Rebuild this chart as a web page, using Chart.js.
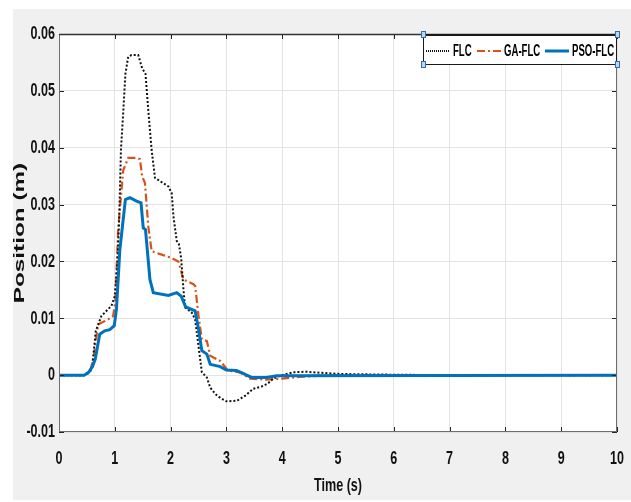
<!DOCTYPE html>
<html>
<head>
<meta charset="utf-8">
<script src="https://cdn.jsdelivr.net/npm/chart.js@4.4.1/dist/chart.umd.min.js"></script>
<style>
  html, body { margin: 0; padding: 0; background: #ffffff; }
  #wrap { width: 631px; height: 502px; }
</style>
</head>
<body>
<div id="wrap"><canvas id="chart" width="631" height="502"></canvas></div>
<script>
const seriesNames = ['FLC', 'GA-FLC', 'PSO-FLC'];

const flcTime = [0, 0.45, 0.52, 0.59, 0.66, 0.76, 0.94, 1.0, 1.05, 1.08, 1.11, 1.15, 1.19, 1.24, 1.3, 1.42, 1.49, 1.55, 1.6, 1.66, 1.72, 1.96, 2.02, 2.05, 2.11, 2.15, 2.19, 2.23, 2.26, 2.38, 2.44, 2.5, 2.56, 2.65, 2.71, 2.8, 2.89, 3.0, 3.19, 3.34, 3.48, 3.63, 3.74, 3.84, 3.99, 4.2, 4.42, 4.71, 5.07, 5.8, 6.9, 10];
const flcPos  = [0, 0, 0.0003, 0.001, 0.0078, 0.0104, 0.0122, 0.0139, 0.0204, 0.028, 0.0396, 0.046, 0.053, 0.056, 0.0563, 0.0563, 0.054, 0.053, 0.0466, 0.0396, 0.0347, 0.0332, 0.032, 0.028, 0.0236, 0.023, 0.0205, 0.0151, 0.0119, 0.011, 0.0098, 0.0051, 0.0005, -0.0004, -0.0022, -0.0033, -0.004, -0.0046, -0.0045, -0.0036, -0.0024, -0.002, -0.0015, -0.0006, 0, 0.0005, 0.0006, 0.0004, 0.0002, 0.0001, 0, 0];

const gaTime = [0, 0.45, 0.55, 0.62, 0.7, 0.76, 0.88, 0.97, 1.01, 1.06, 1.15, 1.24, 1.39, 1.45, 1.49, 1.54, 1.6, 1.66, 1.84, 2.02, 2.14, 2.23, 2.41, 2.44, 2.5, 2.56, 2.65, 2.71, 2.89, 3.03, 3.24, 3.42, 3.72, 4.0, 4.3, 4.7, 5.0, 10];
const gaPos  = [0, 0, 0.0005, 0.003, 0.0089, 0.0092, 0.0098, 0.0104, 0.013, 0.0256, 0.036, 0.0382, 0.0382, 0.038, 0.035, 0.0338, 0.0262, 0.0218, 0.0212, 0.0206, 0.02, 0.0168, 0.016, 0.0157, 0.0104, 0.0063, 0.006, 0.0034, 0.0025, 0.0008, 0.0005, -0.0006, -0.0008, -0.0006, -0.0003, -0.0001, 0, 0];

const psoTime = [0, 0.45, 0.53, 0.6, 0.65, 0.73, 0.82, 0.91, 0.99, 1.03, 1.09, 1.19, 1.27, 1.39, 1.47, 1.51, 1.55, 1.63, 1.69, 1.96, 2.11, 2.19, 2.26, 2.29, 2.44, 2.5, 2.56, 2.65, 2.71, 2.89, 3.0, 3.18, 3.3, 3.45, 3.72, 3.9, 10];
const psoPos  = [0, 0, 0.0005, 0.0015, 0.0028, 0.0072, 0.0078, 0.008, 0.0087, 0.0116, 0.022, 0.0309, 0.0312, 0.0306, 0.0303, 0.0259, 0.0256, 0.0168, 0.0145, 0.014, 0.0145, 0.0139, 0.0122, 0.0119, 0.0113, 0.0081, 0.0043, 0.0037, 0.0019, 0.0015, 0.0009, 0.0008, 0.0003, -0.0004, -0.0004, -0.0001, 0];

const xTicks = [0, 1, 2, 3, 4, 5, 6, 7, 8, 9, 10];
const yTicks = [-0.01, 0, 0.01, 0.02, 0.03, 0.04, 0.05, 0.06];

const FONT = "'Liberation Sans', Arial, sans-serif";

// the source figure was squashed sideways: text is narrow, the rotated y title long
const TICK_STRETCH = 0.66;
const TEXT_STRETCH = {
   'Position (m)': 1.62,
   'Time (s)': 0.7,
   'FLC': 0.6,
   'GA-FLC': 0.6,
   'PSO-FLC': 0.6
};

const toPoints = (ts, vs) => ts.map((t, i) => ({x: t, y: vs[i]}));

const squeezeText = {
   id: 'squeezeText',
   beforeInit(chart) {
      const ctx = chart.ctx;
      const fill = ctx.fillText.bind(ctx);
      ctx.fillText = function(text, x, y) {
         const k = TEXT_STRETCH[text] ?? TICK_STRETCH;
         ctx.save();
         ctx.translate(x, y);
         ctx.scale(k, 1);
         fill(text, 0, 0);
         ctx.restore();
      };
   }
};

// figure background, axes box, inward ticks and the matlab-like legend
const matlabFrame = {
   id: 'matlabFrame',
   beforeDraw(chart) {
      const ctx = chart.ctx;
      const a = chart.chartArea;
      ctx.save();
      ctx.fillStyle = '#ffffff';
      ctx.fillRect(0, 0, chart.width, chart.height);
      ctx.fillStyle = '#f0f0f0';
      ctx.fillRect(13, 9, chart.width - 13, chart.height - 11);
      ctx.fillStyle = '#ffffff';
      ctx.fillRect(a.left, a.top, a.right - a.left, a.bottom - a.top);
      ctx.restore();
   },
   afterDatasetsDraw(chart) {
      const ctx = chart.ctx;
      const a = chart.chartArea;
      const xs = chart.scales.x, ys = chart.scales.y;
      const len = 5;
      ctx.save();
      ctx.strokeStyle = '#262626';
      ctx.lineWidth = 1;
      ctx.beginPath();
      xs.ticks.forEach((t, i) => {
         const px = Math.round(xs.getPixelForTick(i)) + 0.5;
         ctx.moveTo(px, a.bottom); ctx.lineTo(px, a.bottom - len);
         ctx.moveTo(px, a.top); ctx.lineTo(px, a.top + len);
      });
      ys.ticks.forEach((t, i) => {
         const py = Math.round(ys.getPixelForTick(i)) + 0.5;
         ctx.moveTo(a.left, py); ctx.lineTo(a.left + len, py);
         ctx.moveTo(a.right, py); ctx.lineTo(a.right - len, py);
      });
      ctx.stroke();

      ctx.strokeStyle = '#6e6e6e';
      ctx.strokeRect(a.left + 0.5, a.top + 0.5, a.right - a.left - 1, a.bottom - a.top - 1);
      ctx.strokeStyle = '#333333';
      ctx.lineWidth = 1.5;
      ctx.beginPath();
      ctx.moveTo(a.left, a.top + 0.5); ctx.lineTo(a.right, a.top + 0.5);
      ctx.stroke();

      // legend
      const lx0 = 423, lx1 = a.right, ly0 = a.top, ly1 = 64;
      ctx.fillStyle = '#ffffff';
      ctx.fillRect(lx0, ly0, lx1 - lx0, ly1 - ly0);
      ctx.strokeStyle = '#1a1a1a';
      ctx.lineWidth = 1;
      ctx.strokeRect(lx0 + 0.5, ly0 + 0.5, lx1 - lx0 - 1, ly1 - ly0);
      ctx.lineWidth = 2;
      ctx.beginPath();
      ctx.moveTo(lx0, ly0 + 1); ctx.lineTo(lx1, ly0 + 1);
      ctx.stroke();

      const cy = 51;
      const sampleX = [426, 477, 545];
      const textX = [453, 504, 572];
      ctx.font = "bold 16px " + FONT;
      ctx.textBaseline = 'middle';
      ctx.textAlign = 'left';
      chart.data.datasets.forEach((ds, i) => {
         ctx.save();
         ctx.strokeStyle = ds.borderColor;
         ctx.lineWidth = ds.borderWidth;
         ctx.setLineDash(i === 0 ? [1, 1] : (ds.borderDash || []));
         ctx.beginPath();
         ctx.moveTo(sampleX[i], cy); ctx.lineTo(sampleX[i] + 24, cy);
         ctx.stroke();
         ctx.restore();
         ctx.fillStyle = '#000000';
         ctx.fillText(ds.label, textX[i], cy + 1);
      });

      // selection handles
      ctx.fillStyle = '#bcd6ee';
      ctx.strokeStyle = '#2f6fb0';
      ctx.lineWidth = 1;
      [[lx0, ly0], [lx1, ly0], [lx0, ly1], [lx1, ly1]].forEach(p => {
         ctx.fillRect(p[0] - 2, p[1] - 3, 4, 6);
         ctx.strokeRect(p[0] - 2 + 0.5, p[1] - 3 + 0.5, 4, 6);
      });
      ctx.restore();
   }
};

new Chart(document.getElementById('chart'), {
   type: 'line',
   data: {
      datasets: [
         {
            label: seriesNames[0],
            data: toPoints(flcTime, flcPos),
            borderColor: '#111111',
            borderWidth: 2,
            borderDash: [2, 2],
            order: 1
         },
         {
            label: seriesNames[1],
            data: toPoints(gaTime, gaPos),
            borderColor: '#D95319',
            borderWidth: 2.2,
            borderDash: [8, 3, 2, 3],
            order: 2
         },
         {
            label: seriesNames[2],
            data: toPoints(psoTime, psoPos),
            borderColor: '#0072BD',
            borderWidth: 3,
            order: 0
         }
      ]
   },
   options: {
      responsive: false,
      animation: false,
      devicePixelRatio: 1,
      elements: {
         point: { radius: 0 },
         line: { tension: 0, fill: false }
      },
      layout: { padding: { left: 0, right: 14, top: 34, bottom: 0 } },
      plugins: {
         legend: { display: false },
         tooltip: { enabled: false }
      },
      scales: {
         x: {
            type: 'linear',
            min: 0,
            max: 10,
            afterBuildTicks: s => { s.ticks = xTicks.map(v => ({value: v})); },
            afterFit: s => { s.height = 70; s.paddingLeft = 0; s.paddingRight = 0; },
            grid: { color: '#e3e3e3', drawTicks: false },
            border: { display: false },
            ticks: {
               padding: 15,
               color: '#111111',
               font: { family: FONT, size: 19, weight: 'bold' },
               maxRotation: 0,
               callback: v => String(v)
            },
            title: {
               display: true,
               text: 'Time (s)',
               color: '#111111',
               font: { family: FONT, size: 18, weight: 'bold' },
               padding: { top: 0, bottom: 5 }
            }
         },
         y: {
            type: 'linear',
            min: -0.01,
            max: 0.06,
            afterBuildTicks: s => { s.ticks = yTicks.map(v => ({value: v})); },
            afterFit: s => { s.width = 59; s.paddingTop = 0; s.paddingBottom = 0; },
            grid: { color: '#e3e3e3', drawTicks: false },
            border: { display: false },
            ticks: {
               padding: 4,
               color: '#111111',
               font: { family: FONT, size: 19, weight: 'bold' },
               callback: v => String(+v.toFixed(2))
            },
            title: {
               display: true,
               text: 'Position (m)',
               color: '#111111',
               font: { family: FONT, size: 15, weight: 'bold' },
               padding: { top: 10.5, bottom: 0 }
            }
         }
      }
   },
   plugins: [squeezeText, matlabFrame]
});
</script>
</body>
</html>
